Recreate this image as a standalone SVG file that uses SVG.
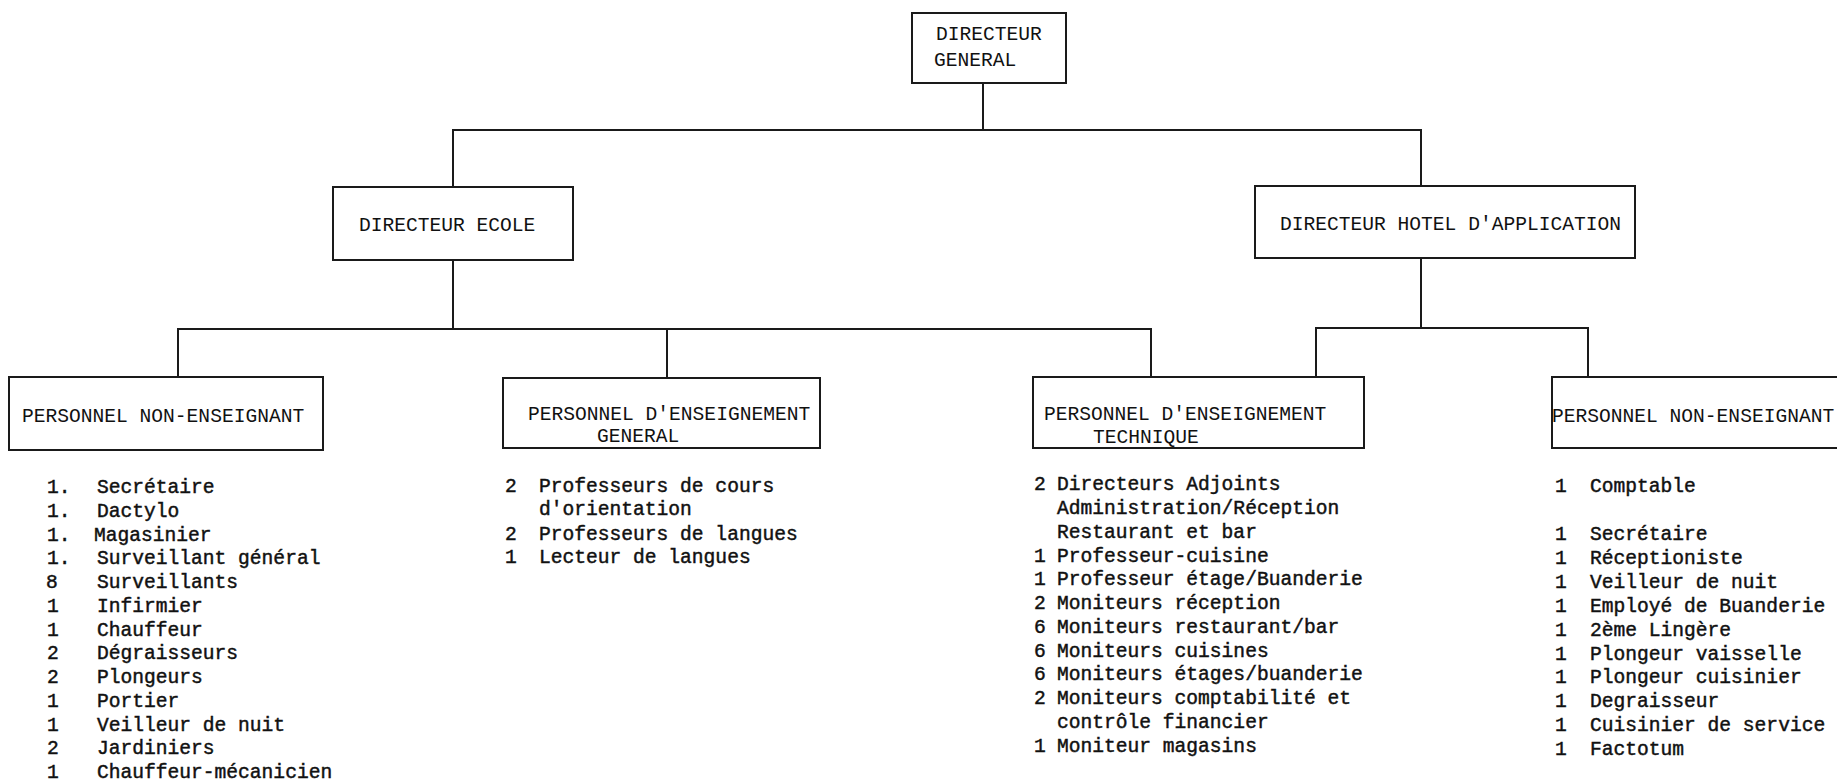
<svg xmlns="http://www.w3.org/2000/svg" width="1837" height="783" viewBox="0 0 1837 783">
<style>
  .box { fill: #ffffff; stroke: #1a1a1a; stroke-width: 2; }
  .conn { fill: none; stroke: #1a1a1a; stroke-width: 2; }
  .t { font-family: "Liberation Mono", "Courier New", monospace; font-size: 19.6px; fill: #111111; stroke: #111111; stroke-width: 0.45; }
  .h { font-family: "Liberation Mono", "Courier New", monospace; font-size: 19.6px; fill: #111111; }
</style>
<rect width="1837" height="783" fill="#ffffff"/>

<g id="connectors">
  <path class="conn" d="M983 83 V130"/>
  <path class="conn" d="M453 187 V130 H1421 V186"/>
  <path class="conn" d="M453 260 V329"/>
  <path class="conn" d="M178 377 V329 H1151 V377"/>
  <path class="conn" d="M667 329 V378"/>
  <path class="conn" d="M1421 258 V328"/>
  <path class="conn" d="M1316 377 V328 H1588 V377"/>
</g>

<g id="directeur-general">
  <rect class="box" x="912" y="13" width="154" height="70"/>
  <text class="h" x="936" y="40">DIRECTEUR</text>
  <text class="h" x="934" y="66">GENERAL</text>
</g>

<g id="directeur-ecole">
  <rect class="box" x="333" y="187" width="240" height="73"/>
  <text class="h" x="359" y="231">DIRECTEUR ECOLE</text>
</g>

<g id="directeur-hotel">
  <rect class="box" x="1255" y="186" width="380" height="72"/>
  <text class="h" x="1280" y="230">DIRECTEUR HOTEL D'APPLICATION</text>
</g>

<g id="personnel-non-enseignant-ecole">
  <rect class="box" x="9" y="377" width="314" height="73"/>
  <text class="h" x="22" y="422">PERSONNEL NON-ENSEIGNANT</text>
  <g class="t">
    <text x="47" y="493">1.</text><text x="97" y="493">Secrétaire</text>
    <text x="47" y="517">1.</text><text x="97" y="517">Dactylo</text>
    <text x="47" y="541">1.</text><text x="94" y="541">Magasinier</text>
    <text x="47" y="564">1.</text><text x="97" y="564">Surveillant général</text>
    <text x="46" y="588">8</text><text x="97" y="588">Surveillants</text>
    <text x="47" y="612">1</text><text x="97" y="612">Infirmier</text>
    <text x="47" y="636">1</text><text x="97" y="636">Chauffeur</text>
    <text x="47" y="659">2</text><text x="97" y="659">Dégraisseurs</text>
    <text x="47" y="683">2</text><text x="97" y="683">Plongeurs</text>
    <text x="47" y="707">1</text><text x="97" y="707">Portier</text>
    <text x="47" y="731">1</text><text x="97" y="731">Veilleur de nuit</text>
    <text x="47" y="754">2</text><text x="97" y="754">Jardiniers</text>
    <text x="47" y="778">1</text><text x="97" y="778">Chauffeur-mécanicien</text>
  </g>
</g>

<g id="personnel-enseignement-general">
  <rect class="box" x="503" y="378" width="317" height="70"/>
  <text class="h" x="528" y="420">PERSONNEL D'ENSEIGNEMENT</text>
  <text class="h" x="597" y="442">GENERAL</text>
  <g class="t">
    <text x="505" y="492">2</text><text x="539" y="492">Professeurs de cours</text>
    <text x="539" y="515">d'orientation</text>
    <text x="505" y="540">2</text><text x="539" y="540">Professeurs de langues</text>
    <text x="505" y="563">1</text><text x="539" y="563">Lecteur de langues</text>
  </g>
</g>

<g id="personnel-enseignement-technique">
  <rect class="box" x="1033" y="377" width="331" height="71"/>
  <text class="h" x="1044" y="420">PERSONNEL D'ENSEIGNEMENT</text>
  <text class="h" x="1093" y="443">TECHNIQUE</text>
  <g class="t">
    <text x="1034" y="490">2</text><text x="1057" y="490">Directeurs Adjoints</text>
    <text x="1057" y="514">Administration/Réception</text>
    <text x="1057" y="538">Restaurant et bar</text>
    <text x="1034" y="562">1</text><text x="1057" y="562">Professeur-cuisine</text>
    <text x="1034" y="585">1</text><text x="1057" y="585">Professeur étage/Buanderie</text>
    <text x="1034" y="609">2</text><text x="1057" y="609">Moniteurs réception</text>
    <text x="1034" y="633">6</text><text x="1057" y="633">Moniteurs restaurant/bar</text>
    <text x="1034" y="657">6</text><text x="1057" y="657">Moniteurs cuisines</text>
    <text x="1034" y="680">6</text><text x="1057" y="680">Moniteurs étages/buanderie</text>
    <text x="1034" y="704">2</text><text x="1057" y="704">Moniteurs comptabilité et</text>
    <text x="1057" y="728">contrôle financier</text>
    <text x="1034" y="752">1</text><text x="1057" y="752">Moniteur magasins</text>
  </g>
</g>

<g id="personnel-non-enseignant-hotel">
  <rect class="box" x="1552" y="377" width="300" height="71"/>
  <text class="h" x="1552" y="422">PERSONNEL NON-ENSEIGNANT</text>
  <g class="t">
    <text x="1555" y="492">1</text><text x="1590" y="492">Comptable</text>
    <text x="1555" y="540">1</text><text x="1590" y="540">Secrétaire</text>
    <text x="1555" y="564">1</text><text x="1590" y="564">Réceptioniste</text>
    <text x="1555" y="588">1</text><text x="1590" y="588">Veilleur de nuit</text>
    <text x="1555" y="612">1</text><text x="1590" y="612">Employé de Buanderie</text>
    <text x="1555" y="636">1</text><text x="1590" y="636">2ème Lingère</text>
    <text x="1555" y="660">1</text><text x="1590" y="660">Plongeur vaisselle</text>
    <text x="1555" y="683">1</text><text x="1590" y="683">Plongeur cuisinier</text>
    <text x="1555" y="707">1</text><text x="1590" y="707">Degraisseur</text>
    <text x="1555" y="731">1</text><text x="1590" y="731">Cuisinier de service</text>
    <text x="1555" y="755">1</text><text x="1590" y="755">Factotum</text>
  </g>
</g>
</svg>
